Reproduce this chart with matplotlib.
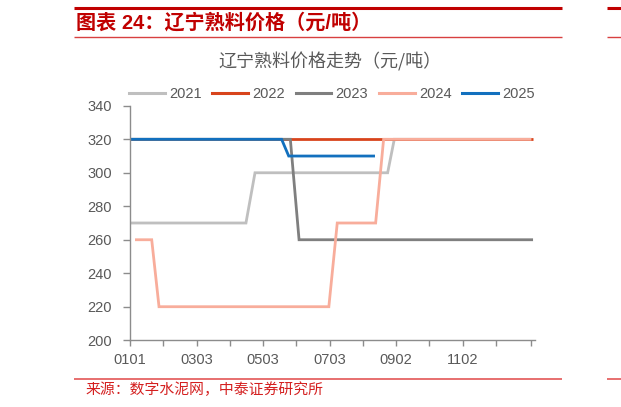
import matplotlib
matplotlib.use("Agg")
import matplotlib.pyplot as plt
from matplotlib.lines import Line2D
from matplotlib.ticker import FixedLocator, NullFormatter

# ---- data (x = day index from Jan 1, y = price 元/吨) ----
x2021 = [0, 106.3, 114.6, 236.2, 242.3, 367.5]
y2021 = [270, 270, 300, 300, 320, 320]

x2022 = [0, 369.5]
y2022 = [320, 320]

x2023 = [0, 147.0, 155.0, 369.5]
y2023 = [320, 320, 260, 260]

x2024 = [4.6, 19.9, 26.6, 182.3, 190.0, 225.2, 232.5, 368.0]
y2024 = [260, 260, 220, 220, 270, 270, 320, 320]

x2025 = [0, 139.0, 145.5, 224.6]
y2025 = [320, 320, 310, 310]

series = [
    ("2021", x2021, y2021, "#BFBFBF"),
    ("2022", x2022, y2022, "#D8441C"),
    ("2023", x2023, y2023, "#7F7F7F"),
    ("2024", x2024, y2024, "#F8AD9B"),
    ("2025", x2025, y2025, "#1270BE"),
]

xtick_pos = [0, 61, 122, 183, 244, 305]
xtick_labels = ["0101", "0303", "0503", "0703", "0902", "1102"]
xminor_pos = [30.5, 91.5, 152.5, 213.5, 274.5, 335.5, 367.5]
yticks = [200, 220, 240, 260, 280, 300, 320, 340]

main_title = "图表 24：辽宁熟料价格（元/吨）"
chart_title = "辽宁熟料价格走势（元/吨）"
source_text = "来源：数字水泥网，中泰证券研究所"

W, H = 621, 407
fig = plt.figure(figsize=(W / 100, H / 100), dpi=100)
fam = ["Liberation Sans", "Noto Sans CJK SC", "DejaVu Sans"]
cjk = ["Noto Sans CJK SC", "DejaVu Sans"]

def fx(px):
    return px / W

def fy(py):
    return 1 - py / H

ax = fig.add_axes([fx(130), fy(340.2), fx(535) - fx(130), fy(105.8) - fy(340.2)])

for name, xs, ys, c in series:
    ax.plot(xs, ys, color=c, lw=2.0, label=name, solid_joinstyle="miter", solid_capstyle="butt")

ax.set_xlim(0, 371.3)
ax.set_ylim(200, 340)
ax.set_yticks(yticks)
ax.set_yticklabels([str(v) for v in yticks], family=fam, fontsize=10.5, color="#595959")
ax.set_xticks(xtick_pos)
ax.set_xticklabels(xtick_labels, family=fam, fontsize=10.5, color="#595959")
ax.xaxis.set_minor_locator(FixedLocator(xminor_pos))
ax.xaxis.set_minor_formatter(NullFormatter())
ax.tick_params(axis="y", which="both", length=5, width=1, color="#8C8C8C", pad=8, direction="out")
ax.tick_params(axis="x", which="both", length=4, width=1, color="#8C8C8C", pad=5, direction="out")
for s in ["top", "right"]:
    ax.spines[s].set_visible(False)
for s in ["left", "bottom"]:
    ax.spines[s].set_color("#8C8C8C")
    ax.spines[s].set_linewidth(1.0)
ax.set_facecolor("none")

handles = [Line2D([0], [0], color=c, lw=2.2) for _, _, _, c in series]
labels = [n for n, _, _, _ in series]
fig.legend(handles, labels, loc="center", bbox_to_anchor=(fx(332), fy(94)), ncol=5,
           frameon=False, prop={"family": fam, "size": 10.5}, labelcolor="#595959",
           handlelength=2.45, handletextpad=0.3, columnspacing=0.72, borderaxespad=0, borderpad=0)

fig.text(fx(330), fy(62), chart_title, ha="center", va="center", fontsize=13,
         color="#595959", family=cjk)

# header / footer
fig.text(fx(76), fy(23), main_title, ha="left", va="center", fontsize=14.5,
         fontweight="bold", color="#C00000", family=fam)
fig.text(fx(86), fy(389.5), source_text, ha="left", va="center", fontsize=10.7,
         color="#D42020", family=cjk)

def hline(x0, x1, y, lw, color):
    fig.add_artist(Line2D([fx(x0), fx(x1)], [fy(y), fy(y)], lw=lw, color=color,
                          transform=fig.transFigure, solid_capstyle="butt"))

hline(74.3, 561.7, 8, 2.2, "#C00000")
hline(74.3, 561.7, 37.3, 1.0, "#D84040")
hline(74.3, 561.7, 378.7, 1.1, "#E04848")
hline(607.3, 621, 8, 2.2, "#C00000")
hline(607.3, 621, 37.3, 1.0, "#D84040")
hline(607.3, 621, 378.7, 1.1, "#E04848")

fig.savefig("out.png", dpi=100, facecolor="white")
